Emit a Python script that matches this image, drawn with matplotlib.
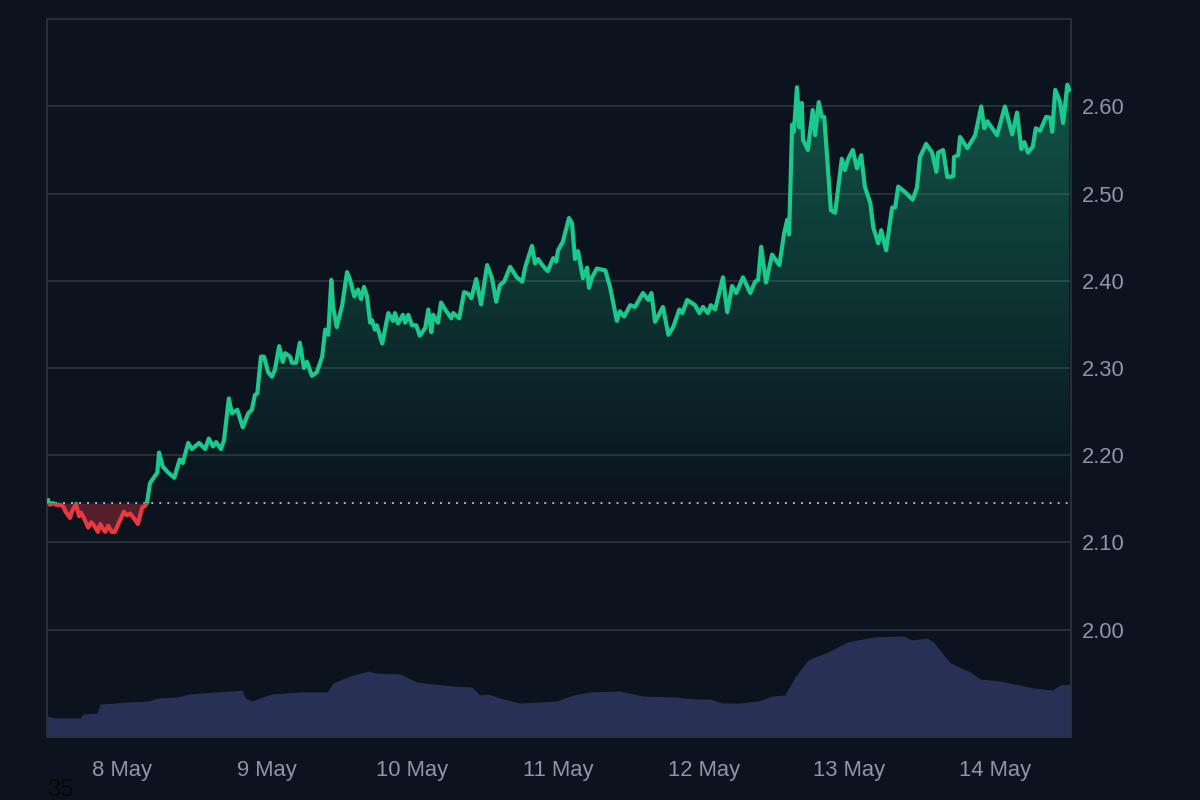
import numpy as np
import matplotlib
matplotlib.use("Agg")
import matplotlib.pyplot as plt
from matplotlib.patches import Rectangle
from matplotlib.path import Path
from matplotlib.colors import LinearSegmentedColormap

plt.rcParams['font.family'] = ['Liberation Sans', 'DejaVu Sans']

day_ticks = [0, 24, 48, 72, 96, 120, 144]
day_labels = ['8 May', '9 May', '10 May', '11 May', '12 May', '13 May', '14 May']
price_ticks = [2.00, 2.10, 2.20, 2.30, 2.40, 2.50, 2.60]
baseline = 2.145

price_hours = [
    -12.1, -11.8, -11.3, -10.8, -10.1, -9.6, -9.2, -8.5, -8.2, -7.5, -7.0, -6.7, -6.2, -5.5, -5.0, -4.5,
    -3.9, -3.5, -3.2, -2.7, -2.2, -1.6, -1.1, -0.2, 0.4, 0.9, 1.4, 2.1, 2.7, 3.4, 3.9, 4.2,
    4.7, 5.9, 6.2, 6.8, 7.7, 8.7, 9.6, 10.1, 11.0, 11.6, 12.8, 13.8, 14.4, 15.1, 15.6, 16.4,
    16.9, 17.7, 18.2, 19.1, 20.0, 20.9, 21.5, 22.0, 22.4, 23.0, 23.5, 24.2, 24.8, 25.3, 26.0, 26.6,
    27.0, 27.8, 28.1, 28.8, 29.4, 30.1, 30.6, 31.4, 32.2, 33.1, 33.6, 34.1, 34.6, 34.9, 35.5, 36.4,
    37.2, 37.7, 38.4, 39.0, 39.5, 40.0, 40.5, 41.0, 41.3, 41.8, 42.1, 43.0, 44.0, 44.8, 45.1, 45.6,
    46.4, 46.8, 47.3, 47.9, 48.6, 49.2, 50.1, 50.6, 51.1, 51.4, 52.2, 52.7, 53.4, 54.4, 54.7, 55.7,
    56.5, 57.2, 57.7, 58.5, 59.3, 60.3, 61.1, 61.8, 62.4, 63.1, 64.1, 65.2, 66.1, 66.6, 67.7, 68.2,
    68.7, 69.4, 70.3, 71.2, 71.7, 72.0, 72.8, 73.8, 74.3, 74.8, 75.3, 76.1, 76.8, 77.1, 77.6, 78.4,
    79.8, 80.6, 81.7, 82.2, 82.9, 83.9, 84.7, 86.0, 86.9, 87.4, 88.0, 89.3, 90.2, 91.0, 92.0, 92.5,
    93.3, 94.6, 95.3, 95.9, 96.7, 97.2, 97.9, 99.2, 99.9, 100.7, 101.4, 102.5, 103.7, 104.5, 105.0, 105.5,
    106.3, 107.3, 108.5, 109.3, 109.8, 110.1, 110.3, 110.6, 110.9, 111.4, 111.8, 112.2, 112.4, 113.2, 113.6, 114.0,
    114.4, 115.0, 115.5, 115.9, 117.0, 117.7, 118.8, 119.3, 119.8, 120.6, 121.3, 122.0, 122.6, 123.5, 124.0, 124.8,
    125.3, 126.1, 127.1, 127.6, 128.1, 129.2, 130.5, 131.2, 131.7, 132.7, 133.7, 134.4, 134.7, 135.5, 136.2, 137.2,
    137.3, 138.0, 138.3, 139.5, 140.8, 141.8, 142.3, 142.8, 143.6, 144.4, 145.7, 146.9, 147.7, 148.4, 148.9, 149.5,
    150.3, 150.8, 151.5, 152.5, 153.2, 153.5, 154.0, 154.8, 155.3, 156.0, 156.3,
]
price_values = [
    2.148, 2.143, 2.145, 2.143, 2.143, 2.141, 2.135, 2.128, 2.135, 2.144, 2.130, 2.134, 2.128, 2.117, 2.123, 2.119,
    2.112, 2.121, 2.117, 2.112, 2.119, 2.112, 2.112, 2.126, 2.135, 2.131, 2.133, 2.127, 2.121, 2.140, 2.142, 2.145,
    2.168, 2.180, 2.203, 2.187, 2.180, 2.174, 2.195, 2.191, 2.214, 2.207, 2.214, 2.207, 2.219, 2.210, 2.215, 2.207,
    2.217, 2.265, 2.248, 2.252, 2.232, 2.248, 2.252, 2.269, 2.271, 2.313, 2.313, 2.295, 2.290, 2.298, 2.325, 2.307,
    2.317, 2.313, 2.306, 2.306, 2.329, 2.300, 2.307, 2.291, 2.295, 2.313, 2.344, 2.338, 2.401, 2.370, 2.347, 2.372,
    2.410, 2.401, 2.382, 2.390, 2.379, 2.393, 2.382, 2.352, 2.355, 2.344, 2.349, 2.328, 2.363, 2.354, 2.363, 2.351,
    2.361, 2.352, 2.361, 2.349, 2.349, 2.337, 2.346, 2.367, 2.341, 2.361, 2.352, 2.375, 2.367, 2.357, 2.363, 2.357,
    2.387, 2.385, 2.380, 2.402, 2.373, 2.418, 2.403, 2.376, 2.395, 2.399, 2.416, 2.404, 2.399, 2.416, 2.440, 2.420,
    2.425, 2.418, 2.411, 2.426, 2.422, 2.435, 2.445, 2.472, 2.466, 2.425, 2.434, 2.403, 2.415, 2.392, 2.404, 2.414,
    2.412, 2.392, 2.354, 2.365, 2.359, 2.372, 2.370, 2.386, 2.378, 2.386, 2.353, 2.370, 2.338, 2.347, 2.367, 2.363,
    2.378, 2.372, 2.363, 2.370, 2.363, 2.372, 2.367, 2.404, 2.364, 2.394, 2.386, 2.404, 2.386, 2.399, 2.401, 2.439,
    2.398, 2.430, 2.418, 2.455, 2.470, 2.453, 2.501, 2.579, 2.571, 2.622, 2.576, 2.604, 2.562, 2.550, 2.573, 2.596,
    2.567, 2.605, 2.588, 2.588, 2.481, 2.478, 2.540, 2.527, 2.539, 2.550, 2.529, 2.544, 2.508, 2.489, 2.461, 2.443,
    2.458, 2.435, 2.484, 2.484, 2.508, 2.502, 2.493, 2.507, 2.542, 2.557, 2.547, 2.525, 2.547, 2.550, 2.519, 2.520,
    2.542, 2.544, 2.565, 2.552, 2.567, 2.600, 2.575, 2.583, 2.575, 2.567, 2.600, 2.568, 2.593, 2.551, 2.559, 2.547,
    2.554, 2.575, 2.572, 2.588, 2.587, 2.571, 2.619, 2.605, 2.581, 2.625, 2.619,
]

volume_hours = [
    -12.3, -11.0, -6.8, -6.4, -4.0, -3.5, -1.1, 0.9, 4.4, 6.0, 9.2, 11.3, 15.1, 18.4, 19.9, 20.4,
    21.5, 22.8, 24.8, 29.4, 33.9, 34.9, 37.7, 40.7, 41.8, 45.9, 48.7, 51.4, 54.7, 57.8, 59.1, 60.4,
    62.4, 65.7, 71.8, 74.5, 77.3, 82.2, 86.0, 91.6, 92.6, 95.4, 97.1, 99.0, 102.0, 105.0, 107.3, 109.4,
    111.1, 113.2, 116.5, 119.7, 124.0, 128.9, 130.4, 132.9, 133.9, 136.7, 140.0, 141.6, 144.9, 150.4, 153.5, 154.8,
    156.6,
]
volume_values = [
    21, 19, 19, 23, 24, 33, 34, 35, 36, 39, 40, 43, 45, 46, 47, 39,
    36, 39, 43, 45, 45, 54, 61, 66, 64, 63, 55, 53, 51, 50, 42, 43,
    39, 34, 36, 42, 45, 46, 41, 40, 39, 38, 38, 34, 34, 36, 41, 42,
    60, 77, 85, 95, 100, 101, 97, 99, 95, 74, 65, 58, 56, 49, 47, 52,
    53,
]

BG = '#0b131f'
GRID = '#28323e'
TEXT = '#8d95a7'
GREEN = '#1ac98b'
RED = '#ea3943'
VOL = '#283155'

fig = plt.figure(figsize=(12, 8), dpi=100, facecolor=BG)
W, H = 1200, 800
L, R, T, B = 47, 1071, 19, 737
rect = [L / W, 1 - B / H, (R - L) / W, (B - T) / H]

axv = fig.add_axes(rect, facecolor=BG, zorder=1)
ax = fig.add_axes(rect, facecolor='none', zorder=2)

xlim = (-12.29, 156.6)
ylim = (1.8767, 2.7003)

axv.fill_between(volume_hours, volume_values, 0, color=VOL, lw=0)
axv.set_xlim(xlim)
axv.set_ylim(0, 718)
axv.axis('off')

x = np.array(price_hours)
y = np.array(price_values)

ax.set_xlim(xlim)
ax.set_ylim(ylim)
ax.set_yticks(price_ticks)
ax.set_yticklabels([f'{v:.2f}' for v in price_ticks])
ax.set_xticks(day_ticks)
ax.set_xticklabels(day_labels)
ax.yaxis.tick_right()
ax.tick_params(axis='y', length=0, pad=8, labelsize=15.8, labelcolor=TEXT)
ax.tick_params(axis='x', length=0, pad=16.5, labelsize=15.8, labelcolor=TEXT)
for lab in ax.get_yticklabels():
    lab.set_verticalalignment('center_baseline')
ax.grid(axis='y', color=GRID, lw=1.3, zorder=1)
ax.grid(axis='x', visible=False)
ax.set_axisbelow(True)
for s in ax.spines.values():
    s.set_color(GRID)
    s.set_linewidth(1.3)

# green gradient fill above baseline, red fill below
upper = ax.fill_between(x, y, baseline, where=y >= baseline, interpolate=True, color='none', lw=0)
cmap = LinearSegmentedColormap.from_list('g', [(0.10, 0.79, 0.55, 0.36), (0.10, 0.79, 0.55, 0.0)])
grad = np.linspace(0, 1, 256).reshape(-1, 1)
im = ax.imshow(grad, cmap=cmap, aspect='auto', extent=(xlim[0], xlim[1], baseline, max(price_values)),
               origin='upper', zorder=2, interpolation='bilinear')
im.set_clip_path(Path.make_compound_path(*upper.get_paths()), transform=ax.transData)
ax.fill_between(x, y, baseline, where=y <= baseline, interpolate=True, color=RED, alpha=0.33, lw=0, zorder=2)
ax.set_xlim(xlim)
ax.set_ylim(ylim)

ax.plot(xlim, [baseline, baseline], color='#d5d9de', lw=1.1, dashes=(1.3, 3.95), zorder=3)

top_line, = ax.plot(x, y, color=GREEN, lw=3.0, zorder=4, solid_joinstyle='round')
top_line.set_clip_path(Rectangle((xlim[0], baseline), xlim[1] - xlim[0], ylim[1] - baseline, transform=ax.transData))
low_line, = ax.plot(x, y, color=RED, lw=3.0, zorder=4, solid_joinstyle='round')
low_line.set_clip_path(Rectangle((xlim[0], ylim[0]), xlim[1] - xlim[0], baseline - ylim[0], transform=ax.transData))

fig.text(47 / W, 1 - 790 / H, '35', color='#05080d', fontsize=17, va='center', ha='left')

fig.savefig('out.png', dpi=100, facecolor=BG)
